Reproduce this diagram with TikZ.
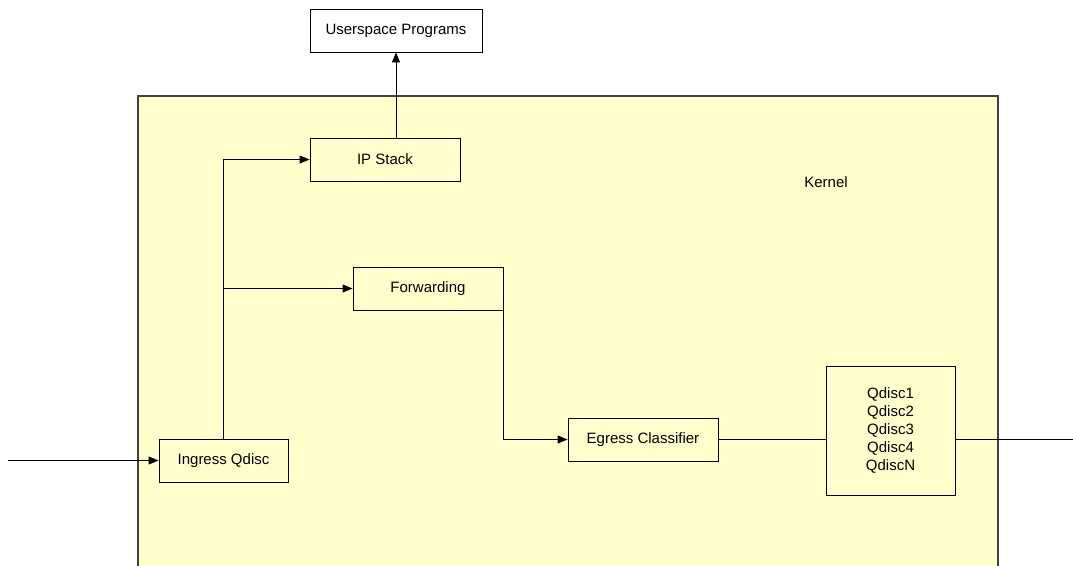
\documentclass[tikz,border=0pt]{standalone}
\usepackage{fontspec}
\setmainfont{Liberation Sans}
\usetikzlibrary{arrows.meta}
\definecolor{kernelfill}{HTML}{FFFFCC}
\definecolor{kernelline}{HTML}{404040}
\tikzset{
  block/.style={draw=black, line width=0.9pt, rectangle, inner sep=0pt,
    font=\fontsize{15}{18}\selectfont, align=center},
  link/.style={line width=0.9pt, draw=black},
  flow/.style={link, -{Triangle[length=10pt,width=8pt]}}
}
\begin{document}
\begin{tikzpicture}[x=1pt,y=-1pt]
  \useasboundingbox (0,0) rectangle (1073,565);
  \clip (0,0) rectangle (1073,565);

  % kernel area
  \node[draw=kernelline, fill=kernelfill, line width=1.1pt, rectangle,
        minimum width=860pt, minimum height=480pt, inner sep=0pt]
        (kernel) at (568,336) {};
  \node[font=\fontsize{15}{18}\selectfont] (klabel) at (826,182) {Kernel};

  % blocks
  \node[block, fill=white, minimum width=172pt, minimum height=43pt] (user) at (396,30.5) {Userspace Programs};
  \node[block, fill=kernelfill, minimum width=150pt, minimum height=43pt] (ip) at (385,159.5) {IP Stack};
  \node[block, fill=kernelfill, minimum width=150pt, minimum height=43pt] (fw) at (428,288.5) {Forwarding};
  \node[block, fill=kernelfill, minimum width=129pt, minimum height=43pt] (ing) at (223.5,460.5) {Ingress Qdisc};
  \node[block, fill=kernelfill, minimum width=150pt, minimum height=43pt] (eg) at (643,439.5) {Egress Classifier};
  \node[block, fill=kernelfill, minimum width=129pt, minimum height=129pt] (qd) at (890.5,430.5)
    {Qdisc1\\Qdisc2\\Qdisc3\\Qdisc4\\QdiscN};

  % free ends
  \coordinate (src) at (8,460.5);
  \coordinate (dst) at (1073,439.5);

  % connectors
  \draw[flow] (src) -- (ing.west);
  \draw[flow] (ing.north) |- (ip.west);
  \coordinate (split) at (ing.north |- fw.west);
  \draw[flow] (split) -- (fw.west);
  \draw[flow] (ip.north -| user.south) -- (user.south);
  \draw[flow] (fw.east) -- (fw.east |- eg.west) -- (eg.west);
  \draw[link] (eg.east) -- (eg.east -| qd.west);
  \draw[link] (qd.east |- eg.east) -- (dst);
\end{tikzpicture}
\end{document}
